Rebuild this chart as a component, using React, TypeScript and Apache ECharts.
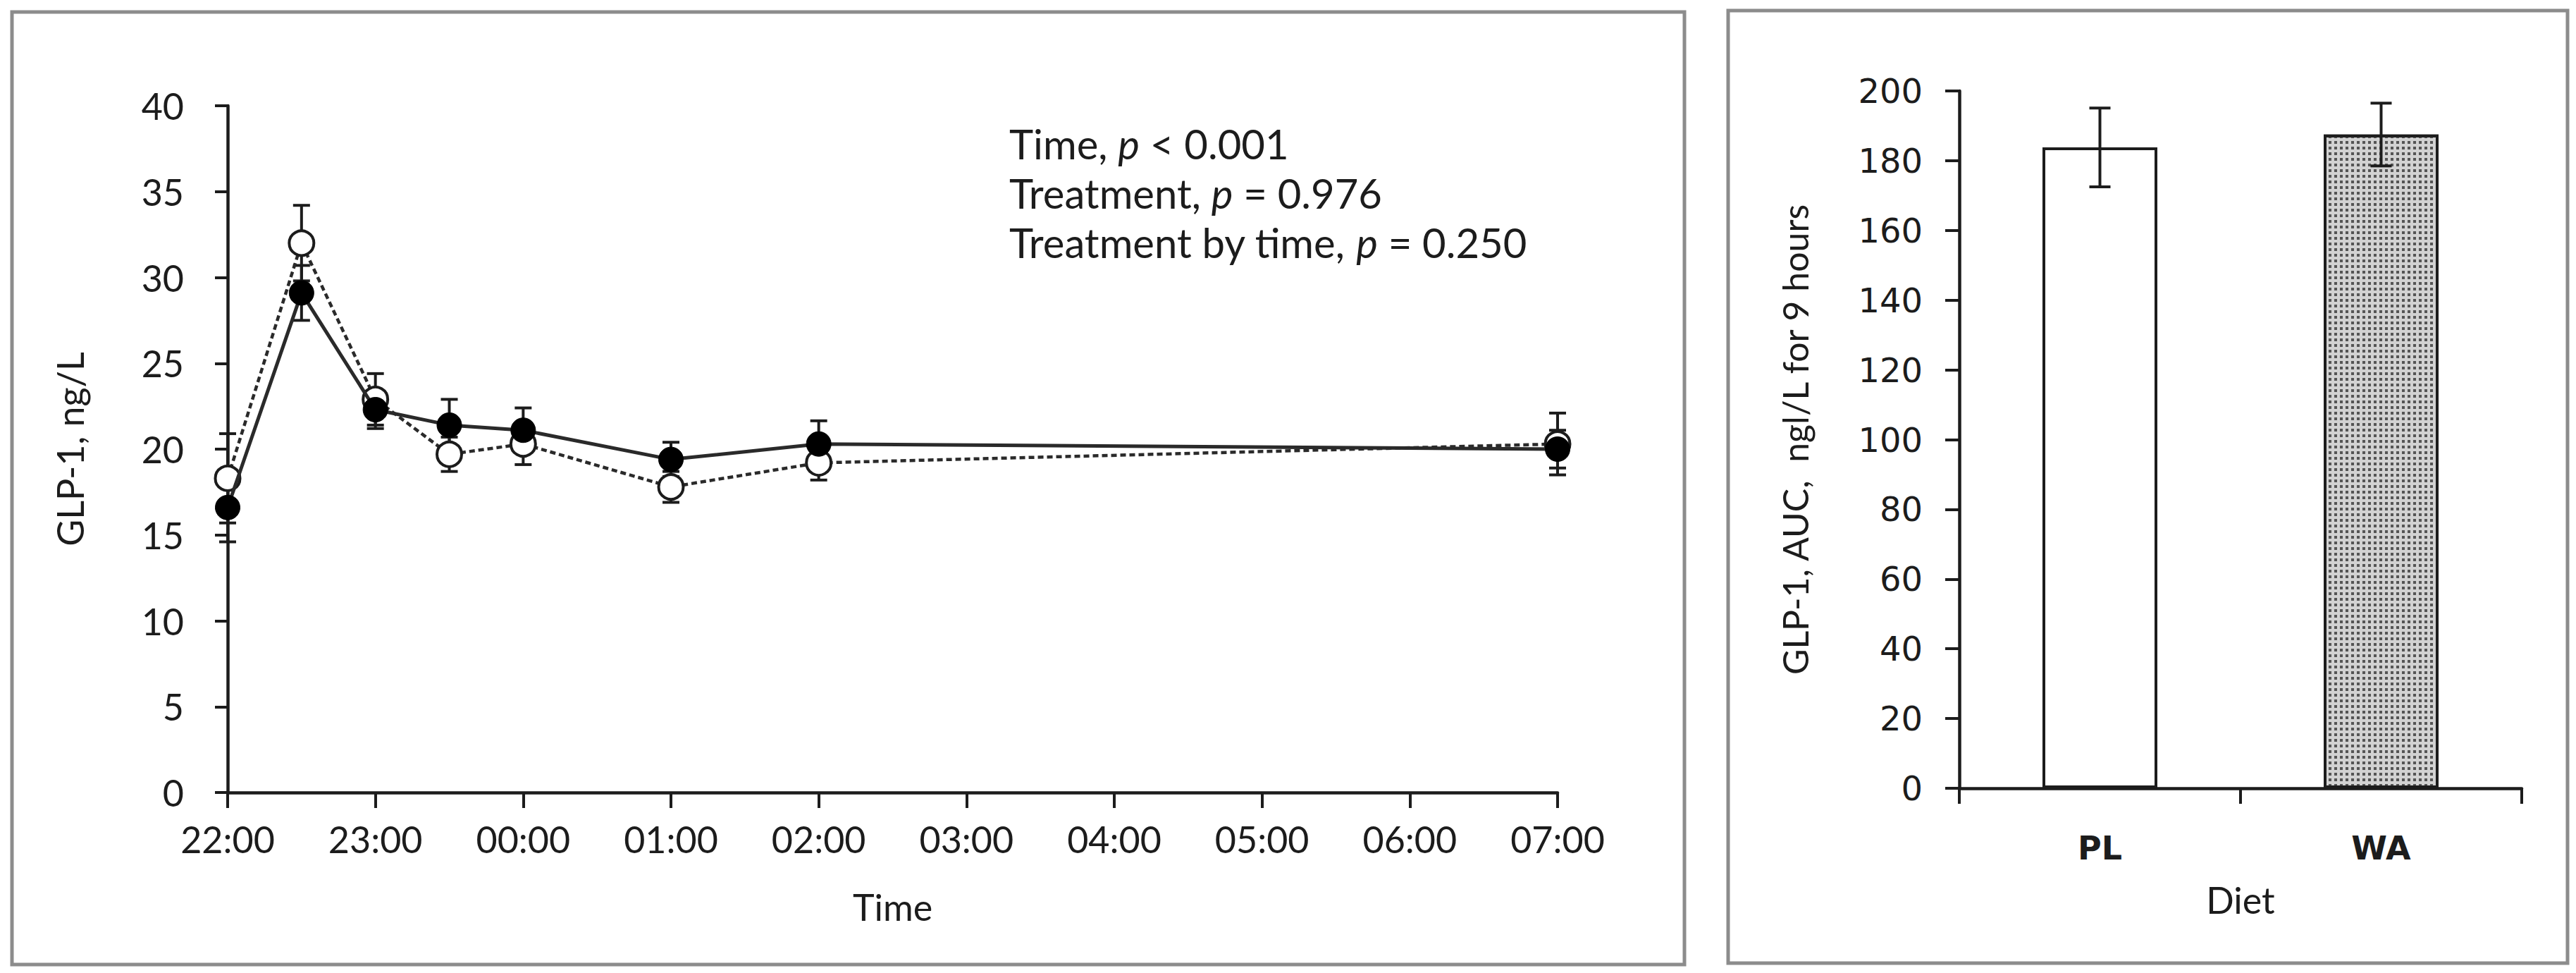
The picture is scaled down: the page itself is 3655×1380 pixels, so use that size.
import React, { useEffect, useRef } from "react";
import * as echarts from "echarts";

// ---- Left panel: GLP-1 over time ----
const timeHours = [0, 0.5, 1, 1.5, 2, 3, 4, 9]; // hours after 22:00
const timeTickLabels = ["22:00", "23:00", "00:00", "01:00", "02:00", "03:00", "04:00", "05:00", "06:00", "07:00"];
const filledMean = [16.6, 29.1, 22.3, 21.4, 21.1, 19.4, 20.3, 20.0];
const filledErr = [2.0, 1.6, 1.1, 1.5, 1.3, 1.0, 1.35, 1.1];
const openMean = [18.3, 32.0, 22.9, 19.7, 20.3, 17.8, 19.2, 20.3];
const openErr = [2.6, 2.2, 1.5, 1.0, 1.2, 0.9, 1.0, 1.8];
const statLines = [
  ["Time, ", "p", " < 0.001"],
  ["Treatment, ", "p", " = 0.976"],
  ["Treatment by time, ", "p", " = 0.250"],
];

// ---- Right panel: AUC by diet ----
const dietCats = ["PL", "WA"];
const aucMean = [183.8, 187.5];
const aucErr = [11.3, 9.0];

const INK = "#1c1c1c";
const CAL = "Lato, 'Open Sans', sans-serif";
const VER = "Verdana, 'DejaVu Sans', sans-serif";

function makeErrRender(capHalf: number) {
  return (params: any, api: any) => {
    const x = api.value(0);
    const y = api.value(1);
    const e = api.value(2);
    const hi = api.coord([x, y + e]);
    const lo = api.coord([x, y - e]);
    const st = { stroke: INK, lineWidth: 4 };
    return {
      type: "group",
      children: [
        { type: "line", shape: { x1: hi[0], y1: hi[1], x2: lo[0], y2: lo[1] }, style: st },
        { type: "line", shape: { x1: hi[0] - capHalf, y1: hi[1], x2: hi[0] + capHalf, y2: hi[1] }, style: st },
        { type: "line", shape: { x1: lo[0] - capHalf, y1: lo[1], x2: lo[0] + capHalf, y2: lo[1] }, style: st },
      ],
    };
  };
}

export default function App() {
  const ref = useRef<HTMLDivElement>(null);
  useEffect(() => {
    if (!ref.current) return;
    const chart = echarts.init(ref.current, null, { renderer: "svg" });

    const filledData = timeHours.map((t, i) => [t, filledMean[i]]);
    const openData = timeHours.map((t, i) => [t, openMean[i]]);
    const filledErrData = timeHours.map((t, i) => [t, filledMean[i], filledErr[i]]);
    const openErrData = timeHours.map((t, i) => [t, openMean[i], openErr[i]]);
    const aucErrData = dietCats.map((c, i) => [i, aucMean[i], aucErr[i]]);

    const axisLine = { show: true, lineStyle: { color: INK, width: 4.5 } };

    const option: any = {
      animation: false,
      backgroundColor: "#ffffff",
      grid: [
        { left: 323, top: 150, width: 1887, height: 974 },
        { left: 2780, top: 129, width: 798, height: 989 },
      ],
      xAxis: [
        {
          type: "value",
          gridIndex: 0,
          min: 0,
          max: 9,
          interval: 1,
          axisLine,
          axisTick: { show: true, length: 22, lineStyle: { color: INK, width: 4 } },
          splitLine: { show: false },
          axisLabel: {
            formatter: (v: number) => timeTickLabels[Math.round(v)] ?? "",
            fontFamily: CAL,
            fontSize: 52,
            color: INK,
            margin: 40,
          },
          name: "Time",
          nameLocation: "middle",
          nameGap: 136,
          nameTextStyle: { fontFamily: CAL, fontSize: 52, color: INK },
        },
        {
          type: "category",
          gridIndex: 1,
          data: dietCats,
          axisLine,
          axisTick: { show: true, length: 22, lineStyle: { color: INK, width: 4 } },
          axisLabel: { fontFamily: VER, fontSize: 46, fontWeight: "bold", color: INK, margin: 62 },
          name: "Diet",
          nameLocation: "middle",
          nameGap: 132,
          nameTextStyle: { fontFamily: CAL, fontSize: 52, color: INK },
        },
      ],
      yAxis: [
        {
          type: "value",
          gridIndex: 0,
          min: 0,
          max: 40,
          interval: 5,
          axisLine,
          axisTick: { show: true, length: 18, lineStyle: { color: INK, width: 4 } },
          splitLine: { show: false },
          axisLabel: { fontFamily: CAL, fontSize: 52, color: INK, margin: 62 },
          name: "GLP-1, ng/L",
          nameLocation: "middle",
          nameRotate: 90,
          nameGap: 198,
          nameTextStyle: { fontFamily: CAL, fontSize: 52, color: INK },
        },
        {
          type: "value",
          gridIndex: 1,
          min: 0,
          max: 200,
          interval: 20,
          axisLine,
          axisTick: { show: true, length: 20, lineStyle: { color: INK, width: 4 } },
          splitLine: { show: false },
          axisLabel: { fontFamily: VER, fontSize: 48, color: INK, margin: 52 },
          name: "GLP-1, AUC,  ngl/L for 9 hours",
          nameLocation: "middle",
          nameRotate: 90,
          nameGap: 208,
          nameTextStyle: { fontFamily: CAL, fontSize: 50, color: INK },
        },
      ],
      series: [
        {
          type: "custom",
          xAxisIndex: 0,
          yAxisIndex: 0,
          data: openErrData,
          encode: { x: 0, y: 1 },
          renderItem: makeErrRender(12),
          z: 1,
          silent: true,
        },
        {
          type: "custom",
          xAxisIndex: 0,
          yAxisIndex: 0,
          data: filledErrData,
          encode: { x: 0, y: 1 },
          renderItem: makeErrRender(12),
          z: 1,
          silent: true,
        },
        {
          type: "line",
          xAxisIndex: 0,
          yAxisIndex: 0,
          data: openData,
          symbol: "circle",
          symbolSize: 35,
          lineStyle: { color: "#2a2a2a", width: 4.5, type: [8, 5] },
          itemStyle: { color: "#ffffff", borderColor: INK, borderWidth: 4 },
          z: 2,
        },
        {
          type: "line",
          xAxisIndex: 0,
          yAxisIndex: 0,
          data: filledData,
          symbol: "circle",
          symbolSize: 35,
          lineStyle: { color: "#2a2a2a", width: 5 },
          itemStyle: { color: "#000000", borderColor: "#000000", borderWidth: 1 },
          z: 3,
        },
        {
          type: "bar",
          xAxisIndex: 1,
          yAxisIndex: 1,
          barWidth: 163,
          data: [
            { value: aucMean[0], itemStyle: { color: "#ffffff", borderColor: INK, borderWidth: 4 } },
            {
              value: aucMean[1],
              itemStyle: {
                color: "#d2d2d2",
                borderColor: INK,
                borderWidth: 4,
                decal: {
                  symbol: "rect",
                  symbolSize: 1,
                  color: "#555555",
                  dashArrayX: [4, 4],
                  dashArrayY: [4, 4],
                },
              },
            },
          ],
          z: 2,
        },
        {
          type: "custom",
          xAxisIndex: 1,
          yAxisIndex: 1,
          data: aucErrData,
          encode: { x: 0, y: 1 },
          renderItem: makeErrRender(15),
          z: 5,
          silent: true,
        },
      ],
      graphic: [
        {
          type: "rect",
          shape: { x: 17, y: 17, width: 2373, height: 1351 },
          style: { fill: "none", stroke: "#8c8c8c", lineWidth: 5 },
          silent: true,
        },
        {
          type: "rect",
          shape: { x: 2452, y: 15, width: 1191, height: 1351 },
          style: { fill: "none", stroke: "#8c8c8c", lineWidth: 5 },
          silent: true,
        },
        ...statLines.map((parts, i) => ({
          type: "text",
          x: 1432,
          y: 203 + i * 70,
          style: {
            text: `{r|${parts[0]}}{i|${parts[1]}}{r|${parts[2]}}`,
            verticalAlign: "middle",
            rich: {
              r: { fontFamily: CAL, fontSize: 58, fill: INK },
              i: { fontFamily: CAL, fontSize: 58, fontStyle: "italic", fill: INK },
            },
          },
          silent: true,
        })),
      ],
    };
    chart.setOption(option);
    return () => chart.dispose();
  }, []);
  return (
    <div
      ref={ref}
      style={{ position: "fixed", left: 0, top: 0, width: 3655, height: 1380, background: "#fff" }}
    />
  );
}
